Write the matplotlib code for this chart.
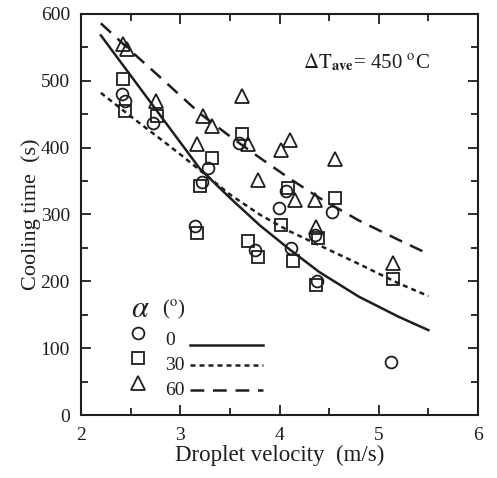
import matplotlib
matplotlib.use('Agg')
import matplotlib.pyplot as plt
from matplotlib.ticker import MultipleLocator

plt.rcParams['font.family'] = ['Liberation Serif', 'DejaVu Serif']
plt.rcParams['mathtext.fontset'] = 'stix'

ink = '#1e1e1e'

# measured points, alpha = 0 deg (circles)
v_a0 = [2.41, 2.44, 2.73, 3.15, 3.28, 3.22, 3.59, 3.75, 3.99, 4.07, 4.12, 4.38, 4.36, 4.53, 5.12]
t_a0 = [480, 470, 437, 283, 370, 348, 407, 247, 310, 335, 250, 200, 270, 303, 80]

# alpha = 30 deg (squares)
v_a30 = [2.42, 2.44, 2.77, 3.32, 3.20, 3.17, 3.62, 3.68, 3.78, 4.02, 4.09, 4.14, 4.37, 4.39, 4.56, 5.14]
t_a30 = [502, 455, 447, 385, 342, 272, 420, 260, 237, 285, 340, 230, 195, 265, 325, 204]

# alpha = 60 deg (triangles)
v_a60 = [2.42, 2.46, 2.76, 3.17, 3.23, 3.32, 3.62, 3.68, 3.78, 4.02, 4.11, 4.16, 4.36, 4.37, 4.56, 5.14]
t_a60 = [555, 547, 470, 405, 447, 432, 478, 405, 352, 397, 412, 322, 322, 282, 383, 228]

# fitted curves
v_fit = [2.2, 2.5, 2.8, 3.0, 3.2, 3.5, 3.8, 4.1, 4.4, 4.8, 5.2, 5.5]
fit_a0 = [568, 508, 448, 408, 368, 325, 284, 248, 214, 177, 147, 127]
fit_a30 = [482, 447, 413, 390, 366, 330, 300, 275, 254, 226, 197, 178]
fit_a60 = [586, 545, 505, 478, 451, 417, 385, 354, 325, 291, 262, 241]

fig = plt.figure(figsize=(4.97, 4.78), dpi=100)
ax = fig.add_axes([81 / 497, 63 / 478, 397 / 497, 401 / 478])

mk = dict(linestyle='none', markerfacecolor='none', markeredgecolor=ink,
          markeredgewidth=1.3, zorder=3)
ax.plot(v_a0, t_a0, marker='o', markersize=8.5, **mk)
ax.plot(v_a30, t_a30, marker='s', markersize=8.5, **mk)
ax.plot(v_a60, t_a60, marker='^', markersize=9.5, **mk)

ax.plot(v_fit, fit_a0, color=ink, linewidth=1.8, linestyle='-')
ax.plot(v_fit, fit_a30, color=ink, linewidth=1.8, linestyle=(0, (2.0, 1.6)))
ax.plot(v_fit, fit_a60, color=ink, linewidth=1.8, linestyle=(0, (5.5, 3.5)))

ax.set_xlim(2, 6)
ax.set_ylim(0, 600)
ax.xaxis.set_major_locator(MultipleLocator(1))
ax.xaxis.set_minor_locator(MultipleLocator(0.5))
ax.yaxis.set_major_locator(MultipleLocator(100))
ax.yaxis.set_minor_locator(MultipleLocator(50))
ax.tick_params(which='both', direction='in', top=True, right=True,
               color=ink, labelcolor=ink, labelsize=14, width=1.3)
ax.tick_params(which='major', length=7)
ax.tick_params(axis='x', which='major', pad=9)
ax.tick_params(axis='y', which='major', pad=8)
ax.tick_params(which='minor', length=5)
for s in ax.spines.values():
    s.set_linewidth(1.5)
    s.set_color(ink)

ax.set_xlabel('Droplet velocity  (m/s)', fontsize=16.5, color=ink, labelpad=0)
ax.set_ylabel('Cooling time  (s)', fontsize=16, color=ink, labelpad=0)

ax.text(0.56, 0.88, r'$\Delta\mathrm{T}_{\mathbf{ave}}$= 450 $^{\mathrm{o}}$C',
        transform=ax.transAxes, fontsize=15, color=ink, va='center')

# hand-made legend
ax.text(0.125, 0.262, r'$\alpha$', transform=ax.transAxes, fontsize=22,
        color=ink, va='center')
ax.text(0.205, 0.262, r'($^{\mathrm{o}}$)', transform=ax.transAxes, fontsize=15,
        color=ink, va='center')
leg_y = [0.205, 0.1425, 0.08]
line_y = [0.175, 0.125, 0.0625]
labels = ['0', '30', '60']
markers = [('o', 8.5), ('s', 8.5), ('^', 9.5)]
styles = ['-', (0, (2.0, 1.6)), (0, (5.5, 3.5))]
for my, ly, lab, (m, ms), ls in zip(leg_y, line_y, labels, markers, styles):
    ax.plot([0.144], [my], marker=m, markersize=ms, transform=ax.transAxes, **mk)
    ax.text(0.212, my - 0.018, lab, transform=ax.transAxes, fontsize=14,
            color=ink, va='center')
    ax.plot([0.275, 0.458], [ly, ly], color=ink, linewidth=1.8, linestyle=ls,
            transform=ax.transAxes)

fig.savefig('out.png', dpi=100)
